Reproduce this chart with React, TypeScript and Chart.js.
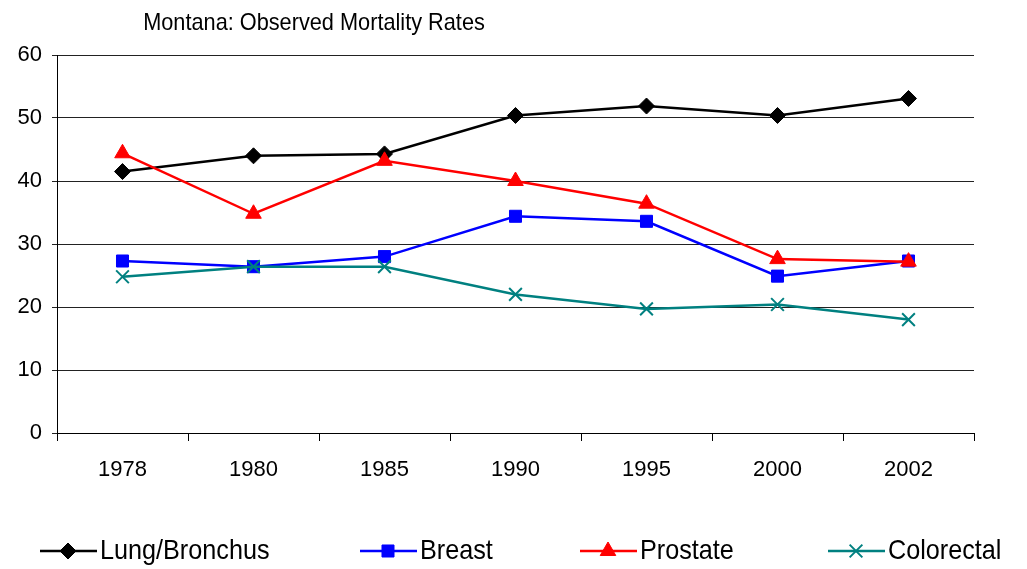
import React, { useEffect, useRef } from "react";
import { Chart, registerables } from "chart.js";
import { drawPoint } from "chart.js/helpers";

Chart.register(...registerables);

const categories = ["1978", "1980", "1985", "1990", "1995", "2000", "2002"];
const lungBronchus = [41.5, 44.0, 44.3, 50.4, 51.9, 50.4, 53.1];
const breast = [27.3, 26.4, 28.0, 34.4, 33.6, 24.9, 27.3];
const prostate = [44.4, 34.8, 43.2, 40.0, 36.4, 27.6, 27.2];
const colorectal = [24.8, 26.4, 26.4, 22.0, 19.7, 20.4, 18.0];
const yTicks = [0, 10, 20, 30, 40, 50, 60];
const titleText = "Montana: Observed Mortality Rates";

const FONT = '"Liberation Sans", Arial, sans-serif';

export default function App() {
  const ref = useRef<HTMLCanvasElement | null>(null);

  useEffect(() => {
    if (!ref.current) return;

    const decorPlugin = {
      id: "decor",
      afterDraw(chart: any) {
        const ctx = chart.ctx;
        const sx = 0.905;
        ctx.save();
        ctx.fillStyle = "#000";
        ctx.font = `24px ${FONT}`;
        ctx.textAlign = "center";
        ctx.textBaseline = "middle";
        ctx.save();
        ctx.scale(sx, 1);
        ctx.fillText(titleText, 314 / sx, 23);
        ctx.restore();

        const starts = [40, 360, 580, 828];
        const ly = 551;
        chart.data.datasets.forEach((ds: any, i: number) => {
          const x0 = starts[i];
          ctx.strokeStyle = ds.borderColor;
          ctx.lineWidth = 2.5;
          ctx.beginPath();
          ctx.moveTo(x0, ly);
          ctx.lineTo(x0 + 57, ly);
          ctx.stroke();
          ctx.fillStyle = ds.pointBackgroundColor;
          ctx.strokeStyle = ds.pointBorderColor;
          ctx.lineWidth = ds.pointBorderWidth;
          drawPoint(ctx, { pointStyle: ds.pointStyle, radius: ds.pointRadius, borderWidth: ds.pointBorderWidth, rotation: 0 } as any, x0 + 28, ly);
          ctx.fillStyle = "#000";
          ctx.font = `28px ${FONT}`;
          ctx.textAlign = "left";
          ctx.textBaseline = "middle";
          ctx.save();
          ctx.scale(0.9, 1);
          ctx.fillText(ds.label, (x0 + 60) / 0.9, ly);
          ctx.restore();
        });
        ctx.restore();
      },
    };

    const chart = new Chart(ref.current, {
      type: "line",
      data: {
        labels: categories,
        datasets: [
          {
            label: "Lung/Bronchus",
            data: lungBronchus,
            order: 4,
            borderColor: "#000000",
            backgroundColor: "#000000",
            pointBackgroundColor: "#000000",
            pointBorderColor: "#000000",
            pointStyle: "rectRot",
            pointRadius: 8,
            pointBorderWidth: 1,
            borderWidth: 2.5,
            tension: 0,
          },
          {
            label: "Breast",
            data: breast,
            order: 3,
            borderColor: "#0000FF",
            backgroundColor: "#0000FF",
            pointBackgroundColor: "#0000FF",
            pointBorderColor: "#0000FF",
            pointStyle: "rect",
            pointRadius: 8.5,
            pointBorderWidth: 1,
            borderWidth: 2.5,
            tension: 0,
          },
          {
            label: "Prostate",
            data: prostate,
            order: 2,
            borderColor: "#FF0000",
            backgroundColor: "#FF0000",
            pointBackgroundColor: "#FF0000",
            pointBorderColor: "#FF0000",
            pointStyle: "triangle",
            pointRadius: 9,
            pointBorderWidth: 1,
            borderWidth: 2.5,
            tension: 0,
          },
          {
            label: "Colorectal",
            data: colorectal,
            order: 1,
            borderColor: "#008080",
            backgroundColor: "#008080",
            pointBackgroundColor: "#008080",
            pointBorderColor: "#008080",
            pointStyle: "crossRot",
            pointRadius: 9,
            pointBorderWidth: 2,
            borderWidth: 2.5,
            tension: 0,
          },
        ] as any,
      },
      options: {
        animation: false,
        responsive: false,
        maintainAspectRatio: false,
        layout: { padding: { top: 55, right: 53, left: 0, bottom: 0 } },
        plugins: {
          legend: { display: false },
          title: { display: false },
          tooltip: { enabled: false },
        },
        scales: {
          x: {
            type: "category",
            offset: true,
            grid: {
              offset: true,
              drawOnChartArea: false,
              drawTicks: true,
              tickLength: 8,
              color: "#000",
              lineWidth: 1,
            },
            border: { display: true, color: "#000", width: 1 },
            ticks: {
              color: "#000",
              font: { family: FONT, size: 22 },
              padding: 16,
              maxRotation: 0,
            },
            afterFit(scale: any) {
              scale.height = 136;
            },
          },
          y: {
            min: 0,
            max: 60,
            afterBuildTicks(scale: any) {
              scale.ticks = yTicks.map((v) => ({ value: v }));
            },
            grid: {
              color: "#222",
              lineWidth: 1,
              tickLength: 5,
              drawTicks: true,
            },
            border: { display: true, color: "#000", width: 1 },
            ticks: {
              color: "#000",
              font: { family: FONT, size: 22 },
              padding: 10,
            },
            afterFit(scale: any) {
              scale.width = 57;
            },
          },
        },
      } as any,
      plugins: [decorPlugin],
    });

    return () => chart.destroy();
  }, []);

  return (
    <div style={{ position: "fixed", left: 0, top: 0, width: 1027, height: 569, background: "#fff" }}>
      <canvas ref={ref} width={1027} height={569} style={{ width: 1027, height: 569, display: "block" }} />
    </div>
  );
}
